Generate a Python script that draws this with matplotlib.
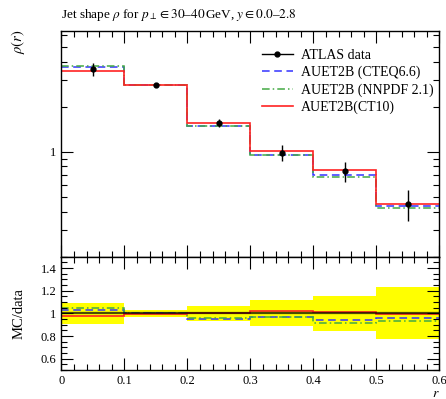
import numpy as np
import matplotlib
matplotlib.use("Agg")
import matplotlib.pyplot as plt
from matplotlib.lines import Line2D
from matplotlib.ticker import MultipleLocator, FixedLocator, NullFormatter

plt.rcParams["font.family"] = ["Liberation Serif", "DejaVu Serif"]
plt.rcParams["mathtext.fontset"] = "stix"

# bin edges in r
edges = [0.0, 0.1, 0.2, 0.3, 0.4, 0.5, 0.6]
centers = [0.05, 0.15, 0.25, 0.35, 0.45, 0.55]

# ATLAS data and uncertainties
atlas = [3.55, 2.81, 1.56, 0.99, 0.745, 0.452]
atlas_err = [0.34, 0.085, 0.10, 0.114, 0.115, 0.104]

# MC predictions
cteq66 = [3.67, 2.81, 1.48, 0.96, 0.70, 0.434]
nnpdf21 = [3.73, 2.81, 1.49, 0.955, 0.68, 0.42]
ct10 = [3.48, 2.80, 1.57, 1.01, 0.752, 0.450]

xticks = [0.0, 0.1, 0.2, 0.3, 0.4, 0.5, 0.6]
xticklabels = ["0", "0.1", "0.2", "0.3", "0.4", "0.5", "0.6"]

atlas = np.array(atlas)
atlas_err = np.array(atlas_err)

blue = "#3333ff"
green = "#44aa44"
red = "#ff2222"
dash = (0, (5, 3))
dashdot = (0, (5, 2, 1, 2))

fig = plt.figure(figsize=(4.46, 3.99), dpi=100)
ax = fig.add_axes([0.1375, 0.3566, 0.8475, 0.5657])
rax = fig.add_axes([0.1375, 0.0727, 0.8475, 0.2839])

# main panel
ax.stairs(cteq66, edges, baseline=None, color=blue, ls=dash, lw=1.1)
ax.stairs(nnpdf21, edges, baseline=None, color=green, ls=dashdot, lw=1.1)
ax.stairs(ct10, edges, baseline=None, color=red, lw=1.2)
ax.errorbar(centers, atlas, yerr=atlas_err, fmt="o", color="black", ms=3.5, elinewidth=1.0, capsize=0)

ax.set_yscale("log")
ax.set_ylim(0.2, 6.4)
ax.set_xlim(0, 0.6)
ax.yaxis.set_major_locator(FixedLocator([1]))
ax.yaxis.set_minor_locator(FixedLocator([0.2, 0.3, 0.4, 0.5, 0.6, 0.7, 0.8, 0.9, 2, 3, 4, 5, 6]))
ax.yaxis.set_minor_formatter(NullFormatter())
ax.set_yticklabels(["1"])
ax.xaxis.set_major_locator(FixedLocator(xticks))
ax.xaxis.set_minor_locator(MultipleLocator(0.02))
ax.set_xticklabels([])

handles = [
    Line2D([], [], color="black", marker="o", ms=3.5, lw=1.0),
    Line2D([], [], color=blue, ls=dash, lw=1.1),
    Line2D([], [], color=green, ls=dashdot, lw=1.1),
    Line2D([], [], color=red, lw=1.2),
]
labels = ["ATLAS data", "AUET2B (CTEQ6.6)", "AUET2B (NNPDF 2.1)", "AUET2B(CT10)"]
ax.legend(handles, labels, loc="upper left", bbox_to_anchor=(0.531, 0.92), frameon=False,
          fontsize=10, borderpad=0, borderaxespad=0, handlelength=2.2, handletextpad=0.6,
          labelspacing=0.28)

# ratio panel
rel = atlas_err / atlas
rax.stairs(1 + rel, edges, baseline=1 - rel, fill=True, color="yellow", lw=0)
rax.axhline(1, color="black", lw=1.6, alpha=0.7)
rax.stairs(np.array(cteq66) / atlas, edges, baseline=None, color=blue, ls=dash, lw=1.1)
rax.stairs(np.array(nnpdf21) / atlas, edges, baseline=None, color=green, ls=dashdot, lw=1.1)
rax.stairs(np.array(ct10) / atlas, edges, baseline=None, color=red, lw=1.2)

rax.set_xlim(0, 0.6)
rax.set_ylim(0.5, 1.5)
rax.xaxis.set_major_locator(FixedLocator(xticks))
rax.xaxis.set_minor_locator(MultipleLocator(0.02))
rax.yaxis.set_major_locator(FixedLocator([0.6, 0.8, 1.0, 1.2, 1.4]))
rax.yaxis.set_minor_locator(MultipleLocator(0.05))
rax.set_yticklabels(["0.6", "0.8", "1", "1.2", "1.4"])
rax.set_xticklabels(xticklabels)
rax.set_ylabel("MC/data", fontsize=10.5, labelpad=11)
rax.set_xlabel("$r$", loc="right", fontsize=10, labelpad=0)

for a in (ax, rax):
    a.tick_params(which="both", direction="in", top=True, right=True, labelsize=9, width=0.8)
    a.tick_params(which="major", length=8.5)
    a.tick_params(which="minor", length=4.3)
    for s in a.spines.values():
        s.set_linewidth(1.0)

fig.text(61 / 446, 1 - 18 / 399, r"Jet shape $\rho$ for $p_\perp \in 30$–$40\,$GeV, $y \in 0.0$–$2.8$",
         fontsize=9.5, ha="left", va="baseline")
fig.text(18 / 446, 1 - 42 / 399, r"$\rho(r)$", rotation=90, fontsize=10.5, ha="center", va="center")

fig.savefig("out.png", dpi=100)
